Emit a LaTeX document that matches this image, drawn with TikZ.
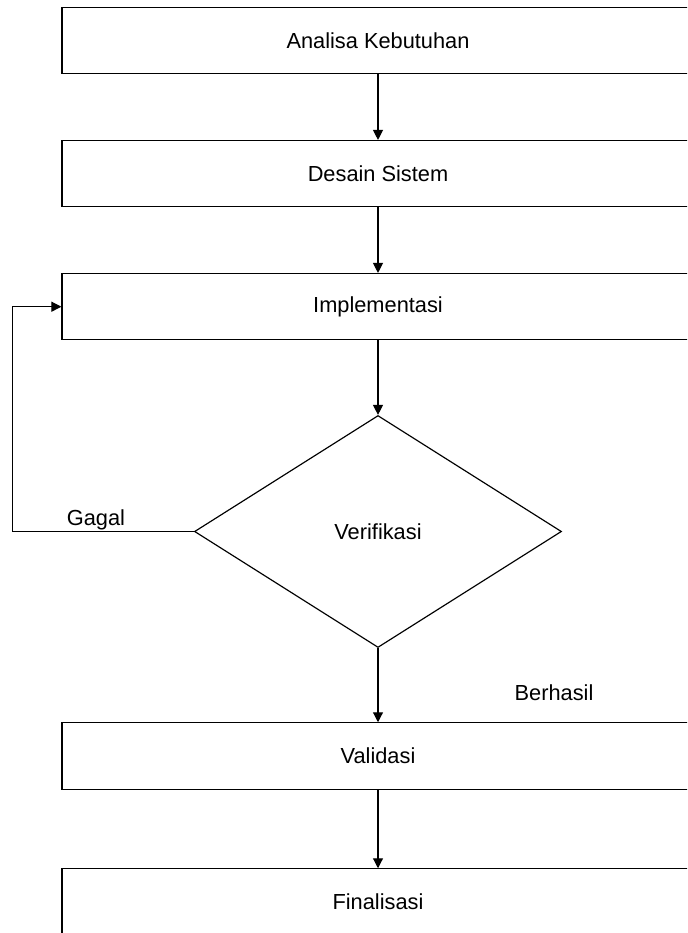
\documentclass[tikz,border=0pt]{standalone}
\usepackage{fontspec}
\setmainfont{Liberation Sans}
\usetikzlibrary{shapes.geometric,arrows.meta}
\tikzset{
  tahap/.style={draw, rectangle, minimum width=18.96cm, minimum height=1.99cm, inner sep=0pt},
  cek/.style={draw, diamond, minimum width=11.01cm, minimum height=6.96cm, inner sep=0pt},
  panah/.style={-{Triangle[length=0.3cm, width=0.3cm]}}
}
\begin{document}
\begin{tikzpicture}[x=0.03cm, y=-0.03cm, line width=1pt, font=\fontsize{18.6}{22}\selectfont]
\clip (0,0) rectangle (687,933);
\node[tahap] (analisa) at (378,40.7) {Analisa Kebutuhan};
\node[tahap] (desain) at (378,173.7) {Desain Sistem};
\node[tahap] (impl) at (378,306.7) {Implementasi};
\node[cek] (verif) at (378,531.5) {Verifikasi};
\node[tahap] (valid) at (378,756) {Validasi};
\node[tahap] (final) at (378,902) {Finalisasi};
\coordinate (kiriBawah) at (12.5,531.5);
\coordinate (kiriAtas) at (12.5,306.7);
\path[draw,panah] (analisa) -- (desain);
\path[draw,panah] (desain) -- (impl);
\path[draw,panah] (impl) -- (verif);
\path[draw,panah] (verif) -- (valid);
\path[draw,panah] (valid) -- (final);
\path[draw,panah] (verif.west) -- (kiriBawah) -- (kiriAtas) -- (impl.west);
\node (gagal) at (96,520) {Gagal};
\node (berhasil) at (554,693) {Berhasil};
\end{tikzpicture}
\end{document}
